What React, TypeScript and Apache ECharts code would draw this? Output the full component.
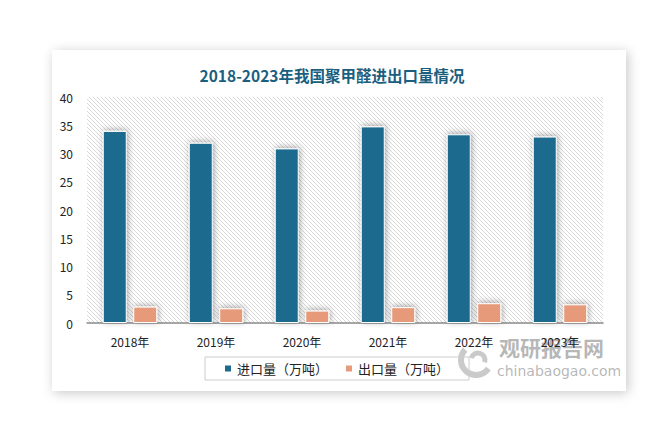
import React, { useEffect, useRef } from "react";
import * as echarts from "echarts";

const categories = ["2018年", "2019年", "2020年", "2021年", "2022年", "2023年"];
const importValues = [34.0, 31.9, 30.9, 34.8, 33.4, 33.0];
const exportValues = [2.9, 2.6, 2.2, 2.8, 3.5, 3.3];
const seriesNames = ["进口量（万吨）", "出口量（万吨）"];
const yTicks = { min: 0, max: 40, interval: 5 };
const titleText = "2018-2023年我国聚甲醛进出口量情况";

function makeHatch(): HTMLCanvasElement {
  const c = document.createElement("canvas");
  c.width = 4;
  c.height = 4;
  const ctx = c.getContext("2d")!;
  ctx.fillStyle = "#ffffff";
  ctx.fillRect(0, 0, 4, 4);
  ctx.fillStyle = "#d9d9d9";
  for (let i = 0; i < 4; i++) ctx.fillRect(i, i, 1, 1);
  return c;
}

export default function App() {
  const ref = useRef<HTMLDivElement>(null);
  useEffect(() => {
    if (!ref.current) return;
    const chart = echarts.init(ref.current, undefined, { renderer: "svg" });
    const hatch = makeHatch();
    const font = "'Noto Sans CJK SC', 'Noto Sans', sans-serif";
    chart.setOption({
      animation: false,
      textStyle: { fontFamily: font },
      title: {
        text: titleText,
        left: 327,
        textAlign: "center",
        top: 62,
        textStyle: { fontSize: 15.5, fontWeight: "bold", color: "#1b5f80", fontFamily: font },
      },
      graphic: [
        {
          type: "rect",
          z: -10,
          shape: { x: 52, y: 50, width: 574, height: 341 },
          style: { fill: "#fff", shadowBlur: 12, shadowColor: "rgba(0,0,0,0.22)", shadowOffsetX: 2, shadowOffsetY: 2 },
        },
        {
          type: "group",
          z: 100,
          children: [
            { type: "arc", shape: { cx: 476, cy: 360, r: 15, startAngle: 0.6, endAngle: 3.9 }, style: { stroke: "rgba(150,150,150,0.5)", lineWidth: 6, fill: "none" } },
            { type: "arc", shape: { cx: 478, cy: 360, r: 7, startAngle: 3.4, endAngle: 6.6 }, style: { stroke: "rgba(150,150,150,0.5)", lineWidth: 5, fill: "none" } },
            { type: "text", x: 499, y: 336, style: { text: "观研报告网", fontSize: 21, fontWeight: "bold", fill: "rgba(135,135,135,0.6)", fontFamily: font } },
            { type: "text", x: 497, y: 364, style: { text: "chinabaogao.com", fontSize: 14, fill: "rgba(135,135,135,0.6)", fontFamily: "'DejaVu Sans', sans-serif" } },
          ],
        },
      ],
      legend: {
        data: seriesNames,
        left: 205,
        top: 357,
        borderColor: "#cccccc",
        borderWidth: 1,
        padding: [5, 20, 5, 18],
        itemGap: 16,
        itemWidth: 8,
        itemHeight: 8,
        icon: "rect",
        textStyle: { fontSize: 13, color: "#222", fontFamily: font },
      },
      grid: {
        left: 87,
        right: 65,
        top: 97,
        bottom: 115,
        show: true,
        borderWidth: 0,
        backgroundColor: { image: hatch, repeat: "repeat", imageWidth: 4, imageHeight: 4 },
      },
      xAxis: {
        type: "category",
        data: categories,
        axisLine: { lineStyle: { color: "#8a8a8a", width: 1.5 } },
        axisTick: { show: false },
        axisLabel: { color: "#222", fontSize: 12, margin: 12 },
      },
      yAxis: {
        type: "value",
        min: yTicks.min,
        max: yTicks.max,
        interval: yTicks.interval,
        axisLine: { show: false },
        axisTick: { show: false },
        splitLine: { show: false },
        axisLabel: { color: "#222", fontSize: 12, margin: 14 },
      },
      series: [
        {
          name: seriesNames[0],
          type: "bar",
          data: importValues,
          barWidth: 24,
          barGap: "27%",
          itemStyle: {
            color: "#1c6a8e",
            borderColor: "#fff",
            borderWidth: 1,
            shadowColor: "rgba(0,0,0,0.35)",
            shadowBlur: 6,
            shadowOffsetX: 1,
            shadowOffsetY: -1,
          },
        },
        {
          name: seriesNames[1],
          type: "bar",
          data: exportValues,
          barWidth: 24,
          barGap: "27%",
          itemStyle: {
            color: "#e69a7a",
            borderColor: "#fff",
            borderWidth: 1,
            shadowColor: "rgba(0,0,0,0.35)",
            shadowBlur: 6,
            shadowOffsetX: 1,
            shadowOffsetY: -1,
          },
        },
      ],
    });
    return () => chart.dispose();
  }, []);
  return (
    <div
      ref={ref}
      style={{ position: "fixed", left: 0, top: 0, width: 668, height: 438, background: "#fff" }}
    />
  );
}
